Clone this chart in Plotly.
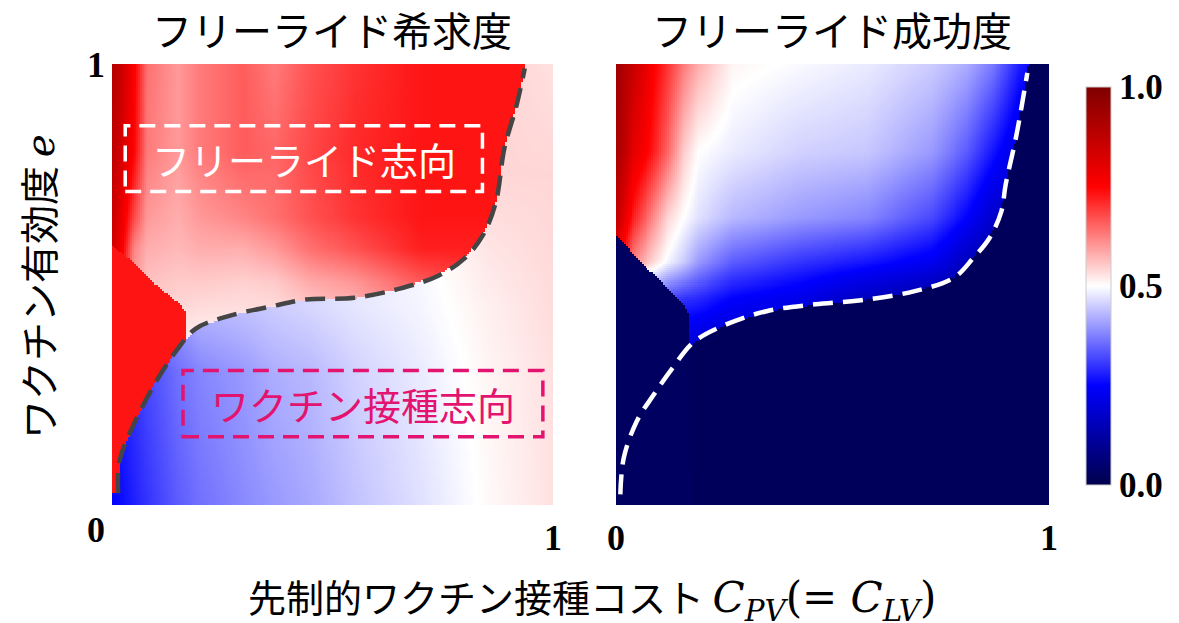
import numpy as np
import plotly.graph_objects as go

# ---------------- data ----------------
# Left panel: free-ride desire (フリーライド希求度)
L_cost_nodes = [0, 0.02, 0.05, 0.08, 0.15, 0.2, 0.3, 0.37, 0.45, 0.55, 0.7, 0.85, 1.0]
L_above_e = [0.4, 0.5, 0.58, 0.65, 0.8, 1.0]
L_above_vals = [
    [0.75, 0.70, 0.58, 0.55, 0.53, 0.52, 0.52, 0.52, 0.53, 0.55, 0.60, 0.65, 0.65],
    [0.80, 0.74, 0.60, 0.56, 0.55, 0.55, 0.545, 0.55, 0.58, 0.60, 0.66, 0.70, 0.70],
    [0.85, 0.78, 0.62, 0.58, 0.57, 0.58, 0.58, 0.60, 0.64, 0.67, 0.72, 0.72, 0.72],
    [0.86, 0.80, 0.68, 0.60, 0.58, 0.60, 0.62, 0.64, 0.67, 0.70, 0.73, 0.73, 0.73],
    [0.88, 0.84, 0.75, 0.63, 0.60, 0.63, 0.66, 0.65, 0.68, 0.71, 0.73, 0.73, 0.73],
    [0.90, 0.86, 0.76, 0.64, 0.60, 0.63, 0.66, 0.63, 0.67, 0.70, 0.73, 0.73, 0.73],
]
L_below_e = [0.0, 0.3, 0.45, 0.75, 1.0]
L_below_vals = [
    [0.25, 0.26, 0.28, 0.30, 0.34, 0.36, 0.385, 0.40, 0.415, 0.44, 0.47, 0.505, 0.53],
    [0.27, 0.28, 0.30, 0.32, 0.36, 0.38, 0.40, 0.42, 0.43, 0.455, 0.48, 0.51, 0.53],
    [0.30, 0.30, 0.32, 0.34, 0.40, 0.43, 0.44, 0.45, 0.46, 0.475, 0.49, 0.515, 0.535],
    [0.30, 0.30, 0.32, 0.34, 0.40, 0.43, 0.44, 0.45, 0.46, 0.48, 0.50, 0.54, 0.54],
    [0.30, 0.30, 0.32, 0.34, 0.40, 0.43, 0.44, 0.45, 0.46, 0.48, 0.50, 0.545, 0.53],
]
L_blob_value = 0.73
L_blob_c = [0, 0.048, 0.10, 0.153, 0.169, 0.172]
L_blob_e = [0.587, 0.55, 0.50, 0.458, 0.436, 0.0]
L_bound_c = [0.014, 0.017, 0.048, 0.10, 0.146, 0.19, 0.27, 0.36, 0.44, 0.55, 0.65, 0.74, 0.80, 0.84, 0.87, 0.89, 0.917, 0.936]
L_bound_e = [0.027, 0.10, 0.18, 0.28, 0.35, 0.40, 0.43, 0.45, 0.466, 0.47, 0.49, 0.52, 0.56, 0.61, 0.685, 0.81, 0.905, 0.99]

# Right panel: free-ride success (フリーライド成功度)
R_cost_nodes = [0, 0.02, 0.04, 0.08, 0.12, 0.156, 0.19, 0.27, 0.425, 0.58, 0.73, 0.81, 0.87, 0.93, 1.0]
R_above_e = [0.38, 0.47, 0.55, 0.65, 0.8, 1.0]
R_above_vals = [
    [0.30, 0.28, 0.26, 0.24, 0.22, 0.21, 0.20, 0.18, 0.15, 0.12, 0.10, 0.10, 0.10, 0.10, 0.10],
    [0.60, 0.50, 0.42, 0.36, 0.32, 0.30, 0.29, 0.25, 0.22, 0.16, 0.12, 0.10, 0.10, 0.10, 0.10],
    [0.80, 0.70, 0.62, 0.55, 0.49, 0.45, 0.40, 0.34, 0.30, 0.27, 0.23, 0.16, 0.12, 0.10, 0.10],
    [0.88, 0.80, 0.72, 0.63, 0.54, 0.50, 0.47, 0.43, 0.40, 0.38, 0.32, 0.25, 0.18, 0.15, 0.15],
    [0.92, 0.88, 0.80, 0.74, 0.65, 0.55, 0.50, 0.48, 0.455, 0.445, 0.40, 0.34, 0.27, 0.20, 0.18],
    [0.94, 0.90, 0.86, 0.77, 0.70, 0.63, 0.58, 0.51, 0.495, 0.48, 0.45, 0.42, 0.37, 0.28, 0.23],
]
R_below_value = 0.02
R_blob_value = 0.03
R_blob_c = [0, 0.04, 0.079, 0.118, 0.156, 0.168, 0.171]
R_blob_e = [0.613, 0.568, 0.53, 0.492, 0.455, 0.432, 0.0]
R_bound_c = [0.01, 0.018, 0.048, 0.087, 0.13, 0.18, 0.256, 0.35, 0.46, 0.58, 0.69, 0.78, 0.825, 0.863, 0.89, 0.90, 0.925, 0.95]
R_bound_e = [0.024, 0.107, 0.19, 0.25, 0.31, 0.37, 0.41, 0.44, 0.455, 0.466, 0.485, 0.515, 0.56, 0.606, 0.666, 0.727, 0.84, 0.98]

# Colorbar ticks
cbar_tickvals = [0.0, 0.5, 1.0]
cbar_ticktext = ["0.0", "0.5", "1.0"]

# ---------------- building the tables plotly needs ----------------
N = 220
grid = (np.arange(N) + 0.5) / N
C, E = np.meshgrid(grid, grid)


def field(cn, en, vals):
    vals = np.asarray(vals, dtype=float)
    rows = np.array([np.interp(grid, cn, vals[i]) for i in range(len(en))])
    out = np.empty((N, N))
    for j in range(N):
        out[:, j] = np.interp(grid, en, rows[:, j])
    return out


def boundary(bc, be):
    ext_c = list(bc) + [bc[-1] + 0.03]
    ext_e = list(be) + [1.2]
    return np.interp(C, ext_c, ext_e)


# left
Lb = boundary(L_bound_c, L_bound_e)
L_above = field(L_cost_nodes, L_above_e, L_above_vals)
L_below = field(L_cost_nodes, L_below_e, L_below_vals)
zL = np.where(E > Lb, L_above, L_below)
L_blob_top = np.interp(C, L_blob_c, L_blob_e)
zL = np.where((E > Lb) & (E < L_blob_top), L_blob_value, zL)

# right
Rb = boundary(R_bound_c, R_bound_e)
R_above = field(R_cost_nodes, R_above_e, R_above_vals)
zR = np.where(E > Rb, R_above, R_below_value)
R_blob_top = np.interp(C, R_blob_c, R_blob_e)
zR = np.where((E < R_blob_top) & (C < 0.172), R_blob_value, zR)

seismic = [[0.0, "rgb(0,0,76)"], [0.25, "rgb(0,0,255)"], [0.5, "rgb(255,255,255)"],
           [0.75, "rgb(255,0,0)"], [1.0, "rgb(127,0,0)"]]

W, H = 1179, 623
def px(x):
    return x / W
def py(y):
    return 1 - y / H

fig = go.Figure()
fig.add_trace(go.Heatmap(x=grid, y=grid, z=zL, colorscale=seismic, zmin=0, zmax=1,
                         showscale=False, xaxis="x", yaxis="y", hoverinfo="skip"))
fig.add_trace(go.Heatmap(
    x=grid, y=grid, z=zR, colorscale=seismic, zmin=0, zmax=1, xaxis="x2", yaxis="y2",
    hoverinfo="skip",
    colorbar=dict(
        x=px(1086), xanchor="left", y=py(286), yanchor="middle",
        lenmode="pixels", len=398, thicknessmode="pixels", thickness=25,
        outlinewidth=1, outlinecolor="#cccccc", xpad=0, ypad=0,
        tickvals=cbar_tickvals, ticktext=cbar_ticktext, ticks="",
        tickfont=dict(family="Liberation Serif", size=35, color="black", weight="bold"),
        ticklabelposition="outside",
    )))

fig.add_trace(go.Scatter(x=L_bound_c, y=L_bound_e, mode="lines", xaxis="x", yaxis="y",
                         line=dict(color="#454545", width=4.5, dash="20px,10px", shape="spline"),
                         showlegend=False, hoverinfo="skip"))
fig.add_trace(go.Scatter(x=R_bound_c, y=R_bound_e, mode="lines", xaxis="x2", yaxis="y2",
                         line=dict(color="white", width=4.5, dash="20px,10px", shape="spline"),
                         showlegend=False, hoverinfo="skip"))

numfont = dict(family="Liberation Serif", size=36, color="black", weight="bold")
ydom = [py(505), py(64)]
fig.update_layout(
    width=W, height=H, margin=dict(l=0, r=0, t=0, b=0, pad=0, autoexpand=False),
    paper_bgcolor="white", plot_bgcolor="white", showlegend=False,
    xaxis=dict(domain=[px(112), px(553)], range=[0, 1], showgrid=False, zeroline=False,
               showline=False, tickvals=[1], ticktext=["1"], ticks="", tickfont=numfont,
               ticklabelstandoff=8, anchor="y", automargin=False),
    yaxis=dict(domain=ydom, range=[0, 1], showgrid=False, zeroline=False, showline=False,
               tickvals=[1], ticktext=["1"], ticks="", tickfont=numfont, ticklabelstandoff=6,
               anchor="x", automargin=False),
    xaxis2=dict(domain=[px(616), px(1049)], range=[0, 1], showgrid=False, zeroline=False,
                showline=False, tickvals=[0, 1], ticktext=["0", "1"], ticks="", tickfont=numfont,
                ticklabelstandoff=8, anchor="y2", automargin=False),
    yaxis2=dict(domain=ydom, range=[0, 1], showgrid=False, zeroline=False, showline=False,
                showticklabels=False, anchor="x2", automargin=False),
    font=dict(family="Noto Sans CJK JP", color="black"),
)

jp = "Noto Sans CJK JP"
math = "font-family:DejaVu Serif"
annots = [
    dict(text="フリーライド希求度", x=px(332), y=py(29), font=dict(family=jp, size=40)),
    dict(text="フリーライド成功度", x=px(832), y=py(29), font=dict(family=jp, size=40)),
    dict(text="0", x=px(96), y=py(530), font=numfont),
    dict(text=f"ワクチン有効度 <span style='{math}'><i>e</i></span>",
         x=px(37), y=py(287), textangle=-90, font=dict(family=jp, size=39)),
    dict(text=f"先制的ワクチン接種コスト <span style='{math};font-size:42px'><i>C</i><sub><i>PV</i></sub>(= <i>C</i><sub><i>LV</i></sub>)</span>",
         x=px(592), y=py(598), font=dict(family=jp, size=38)),
]
for a in annots:
    a.update(xref="paper", yref="paper", showarrow=False, xanchor="center", yanchor="middle")
    fig.add_annotation(**a)

# labelled regions in the left panel (axis coordinates)
fig.add_shape(type="rect", xref="x", yref="y", x0=0.03, x1=0.84, y0=0.711, y1=0.86,
              line=dict(color="white", width=3.5, dash="16px,9px"))
fig.add_annotation(xref="x", yref="y", x=0.435, y=0.785, text="フリーライド志向", showarrow=False,
                   font=dict(family=jp, size=38, color="white"))
pink = "#e3146f"
fig.add_shape(type="rect", xref="x", yref="y", x0=0.161, x1=0.977, y0=0.155, y1=0.305,
              line=dict(color=pink, width=3.5, dash="16px,9px"))
fig.add_annotation(xref="x", yref="y", x=0.57, y=0.23, text="ワクチン接種志向", showarrow=False,
                   font=dict(family=jp, size=38, color=pink))

fig.write_html("out.html")
